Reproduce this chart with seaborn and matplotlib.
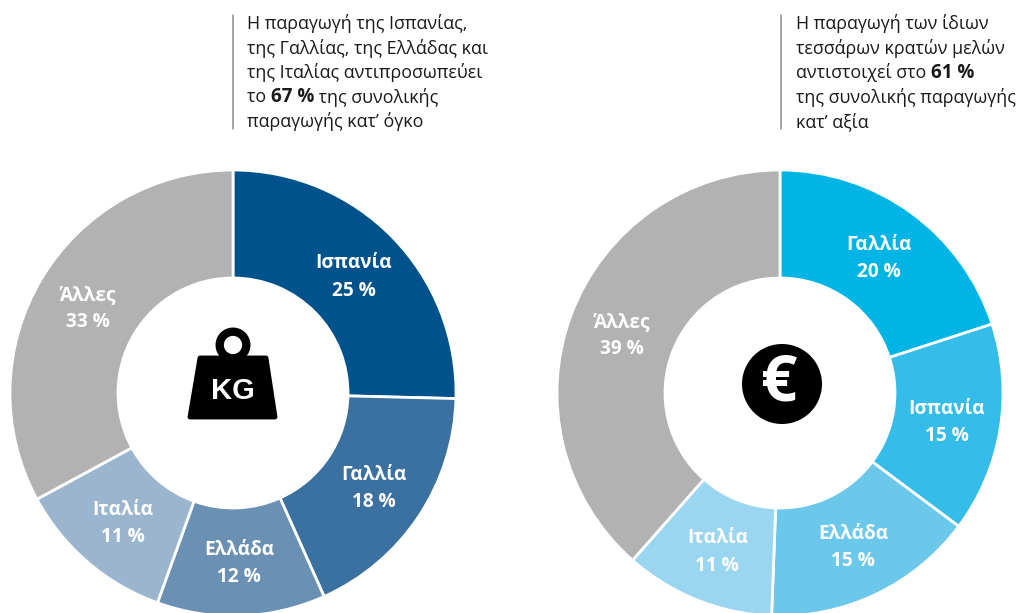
import numpy as np
import matplotlib.pyplot as plt
import seaborn as sns
from matplotlib.patches import Circle, Polygon

volume_labels = ['Ισπανία', 'Γαλλία', 'Ελλάδα', 'Ιταλία', 'Άλλες']
volume_pct = [25, 18, 12, 11, 33]
# slice sizes, the printed percentages are rounded
volume_shares = [25.4, 17.9, 12.2, 11.6, 32.9]
value_labels = ['Γαλλία', 'Ισπανία', 'Ελλάδα', 'Ιταλία', 'Άλλες']
value_pct = [20, 15, 15, 11, 39]
value_shares = [20.0, 15.2, 15.4, 10.9, 38.5]

volume_note = [
    [('Η παραγωγή της Ισπανίας,', False)],
    [('της Γαλλίας, της Ελλάδας και', False)],
    [('της Ιταλίας αντιπροσωπεύει', False)],
    [('το ', False), ('67 %', True), (' της συνολικής', False)],
    [('παραγωγής κατ’ όγκο', False)],
]
value_note = [
    [('Η παραγωγή των ίδιων', False)],
    [('τεσσάρων κρατών μελών', False)],
    [('αντιστοιχεί στο ', False), ('61 %', True)],
    [('της συνολικής παραγωγής', False)],
    [('κατ’ αξία', False)],
]

volume_colors = sns.color_palette(['#00528c', '#3b71a0', '#6a90b4', '#9bb5cf', '#b2b2b2'])
value_colors = sns.color_palette(['#00b5e6', '#33bde8', '#6cc8ea', '#9bd6f0', '#b2b2b2'])

W, H = 1022, 613
R = 223
HOLE = 115 / R

sns.set_theme(style='white')
plt.rcParams['font.family'] = ['Open Sans', 'DejaVu Sans']

fig = plt.figure(figsize=(W / 100, H / 100), dpi=100)


def donut(cx, cy, labels, pct, shares, colors):
    ax = fig.add_axes([(cx - R) / W, 1 - (cy + R) / H, 2 * R / W, 2 * R / H])
    wedges, _ = ax.pie(shares, colors=colors, startangle=90, counterclock=False, radius=1,
                       wedgeprops=dict(width=1 - HOLE, edgecolor='white', linewidth=2, clip_on=False))
    ax.set_xlim(-1, 1)
    ax.set_ylim(-1, 1)
    for w, lab, v in zip(wedges, labels, pct):
        ang = np.deg2rad((w.theta1 + w.theta2) / 2)
        d = (1 + HOLE) / 2
        ax.text(d * np.cos(ang), d * np.sin(ang) - 2 / R, '{}\n{} %'.format(lab, v), color='white',
                fontsize=13.7, fontweight='bold', ha='center', va='center', linespacing=1.48)


donut(233, 393, volume_labels, volume_pct, volume_shares, volume_colors)
donut(780, 393, value_labels, value_pct, value_shares, value_colors)

# overlay in pixel coords for notes and icons
over = fig.add_axes([0, 0, 1, 1])
over.set_xlim(0, W)
over.set_ylim(H, 0)
over.axis('off')
over.patch.set_alpha(0)


def note(x, lines):
    rend = fig.canvas.get_renderer()
    for i, parts in enumerate(lines):
        cur = x
        y = 23.5 + i * 24.6
        for s, bold in parts:
            # keep leading and trailing spaces in the measured width
            t = over.text(cur, y, s.replace(' ', '\u00a0'), fontsize=13.5 if bold else 12.85, color='#1a1a1a',
                          fontweight='bold' if bold else 'normal', va='center', ha='left')
            cur = over.transData.inverted().transform(t.get_window_extent(rend).extents[2:])[0]


over.plot([233, 233], [15, 129], color='#8c8c8c', lw=1.1)
over.plot([781, 781], [15, 129], color='#8c8c8c', lw=1.1)
note(247, volume_note)
note(796, value_note)

# weight icon
over.add_patch(Circle((233, 345), 13.3, fill=False, edgecolor='black', lw=6))
over.add_patch(Polygon([(200, 358), (266, 358), (275, 417), (190, 417)], closed=True,
                       facecolor='black', edgecolor='black', lw=3.5, joinstyle='round'))
over.text(233, 391, 'KG', color='white', fontsize=21, fontweight='bold',
          family='Liberation Sans', ha='center', va='center')

# euro icon
over.add_patch(Circle((782, 384), 40, facecolor='black', edgecolor='none'))
over.text(779, 384, '€', color='white', fontsize=46, fontweight='bold',
          family='Open Sans', ha='center', va='center')

fig.savefig('out.png', dpi=100)
